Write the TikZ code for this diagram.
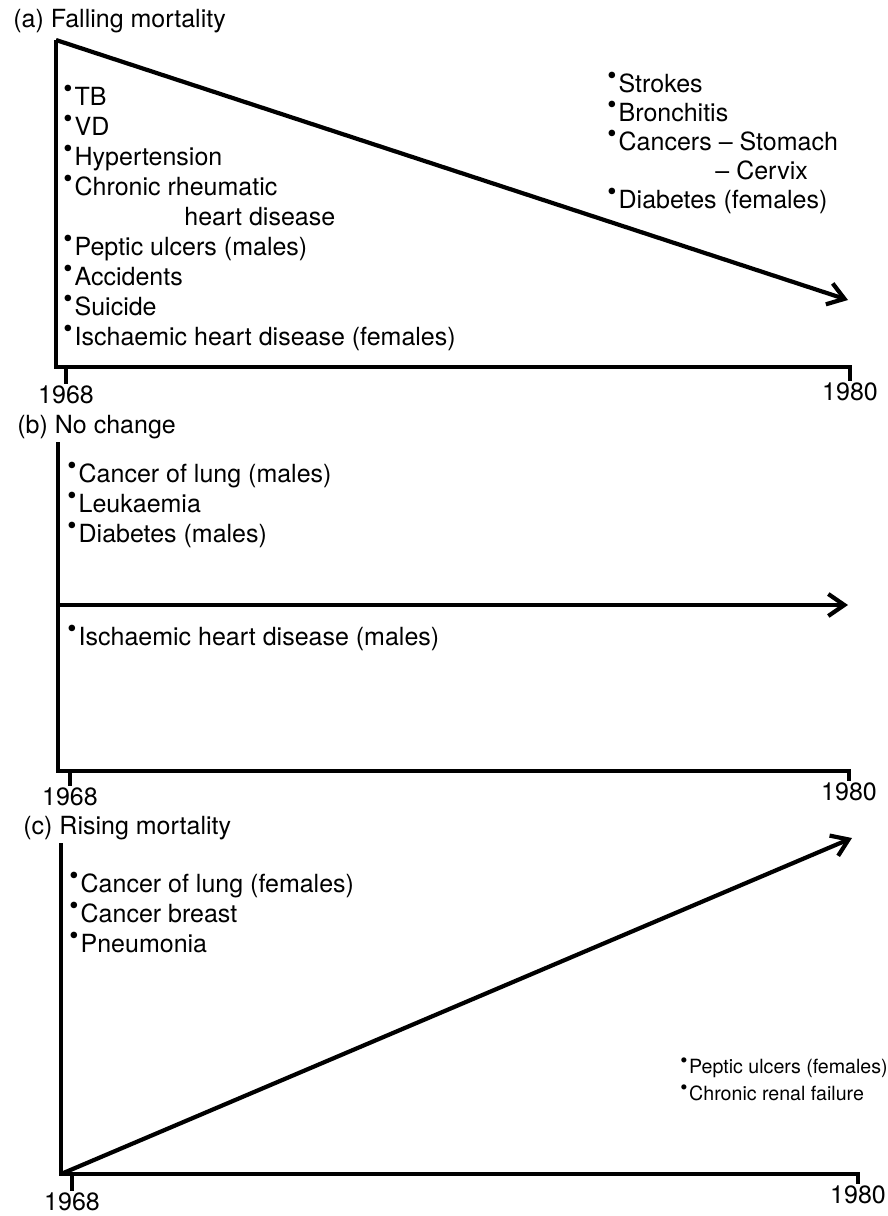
\documentclass[tikz,border=0pt]{standalone}
\usepackage{fontspec}
\setmainfont{TeX Gyre Heros}
\usepackage{graphicx}
\usetikzlibrary{arrows.meta, positioning}
\newcommand{\causedot}{\makebox[0.45em][l]{\raisebox{0.3em}{\scalebox{1.05}{\textbullet}}}}

\begin{document}
\begin{tikzpicture}[
    x=0.5pt, y=-0.5pt,
    node distance=15pt,
    axisline/.style={line width=2pt},
    trendline/.style={line width=2.1pt, -{Straight Barb[length=8pt, width=11pt]}},
    cause/.style={inner sep=0pt, anchor=west, text height=9pt, text depth=2.5pt, font=\fontsize{12.5}{15}\selectfont},
    smallcause/.style={cause, font=\fontsize{9.8}{12}\selectfont},
    yearlabel/.style={inner sep=1pt, font=\fontsize{12.5}{15}\selectfont},
    paneltitle/.style={inner sep=0pt, anchor=base west, font=\fontsize{12.5}{15}\selectfont}
]
\useasboundingbox (0,0) rectangle (888,1216);

% (a) Falling mortality
\node[paneltitle] (ta) at (13,27) {(a) Falling mortality};
\coordinate (aY) at (56,40);
\coordinate (aO) at (56,367);
\coordinate (aTip) at (848,300);
\node[yearlabel] (a68) at (66,395) {1968};
\node[yearlabel] (a80) at (850,392) {1980};

\draw[axisline] (aY) |- (a80.north |- aO) -- (a80.north);
\draw[axisline] (a68.north |- aO) -- (a68.north);
\draw[trendline] (aY) -- (aTip);

\node[cause] (a1) at (63,98.5) {\causedot TB};
\node[cause, below=of a1.west, anchor=west] (a2) {\causedot VD};
\node[cause, below=of a2.west, anchor=west] (a3) {\causedot Hypertension};
\node[cause, below=of a3.west, anchor=west] (a4) {\causedot Chronic rheumatic};
\node[cause, below=of a4.west, anchor=west, xshift=60.5pt] (a4b) {heart disease};
\node[cause, below=30pt of a4.west, anchor=west] (a5) {\causedot Peptic ulcers (males)};
\node[cause, below=of a5.west, anchor=west] (a6) {\causedot Accidents};
\node[cause, below=of a6.west, anchor=west] (a7) {\causedot Suicide};
\node[cause, below=of a7.west, anchor=west] (a8) {\causedot Ischaemic heart disease (females)};

\node[cause] (r1) at (607,85.5) {\causedot Strokes};
\node[cause, below=14.5pt of r1.west, anchor=west] (r2) {\causedot Bronchitis};
\node[cause, below=14.5pt of r2.west, anchor=west] (r3) {\causedot Cancers – Stomach};
\node[cause, below=14.5pt of r3.west, anchor=west, xshift=54pt] (r3b) {– Cervix};
\node[cause, below=29pt of r3.west, anchor=west] (r4) {\causedot Diabetes (females)};

% (b) No change
\node[paneltitle] (tb) at (17,433) {(b) No change};
\coordinate (bY) at (58,442);
\coordinate (bO) at (58,771);
\coordinate (bTip) at (848,605);
\node[yearlabel] (b68) at (70,797) {1968};
\node[yearlabel] (b80) at (849,792) {1980};

\draw[axisline] (bY) |- (b80.north |- bO) -- (b80.north);
\draw[axisline] (b68.north |- bO) -- (b68.north);
\draw[trendline] (bY |- bTip) -- (bTip);

\node[cause] (b1) at (67,475.5) {\causedot Cancer of lung (males)};
\node[cause, below=of b1.west, anchor=west] (b2) {\causedot Leukaemia};
\node[cause, below=of b2.west, anchor=west] (b3) {\causedot Diabetes (males)};
\node[cause] (b4) at (67,638.5) {\causedot Ischaemic heart disease (males)};

% (c) Rising mortality
\node[paneltitle] (tc) at (23,834) {(c) Rising mortality};
\coordinate (cY) at (61,843);
\coordinate (cO) at (61,1174);
\coordinate (cTip) at (852,838);
\node[yearlabel] (c68) at (72,1202) {1968};
\node[yearlabel] (c80) at (858,1195) {1980};

\draw[axisline] (cY) |- (c80.north |- cO) -- (c80.north);
\draw[axisline] (c68.north |- cO) -- (c68.north);
\draw[trendline] (cO) -- (cTip);

\node[cause] (c1) at (69,885.5) {\causedot Cancer of lung (females)};
\node[cause, below=of c1.west, anchor=west] (c2) {\causedot Cancer breast};
\node[cause, below=of c2.west, anchor=west] (c3) {\causedot Pneumonia};

\node[smallcause] (d1) at (680,1067) {\causedot Peptic ulcers (females)};
\node[smallcause, below=13.5pt of d1.west, anchor=west] (d2) {\causedot Chronic renal failure};

\end{tikzpicture}
\end{document}
